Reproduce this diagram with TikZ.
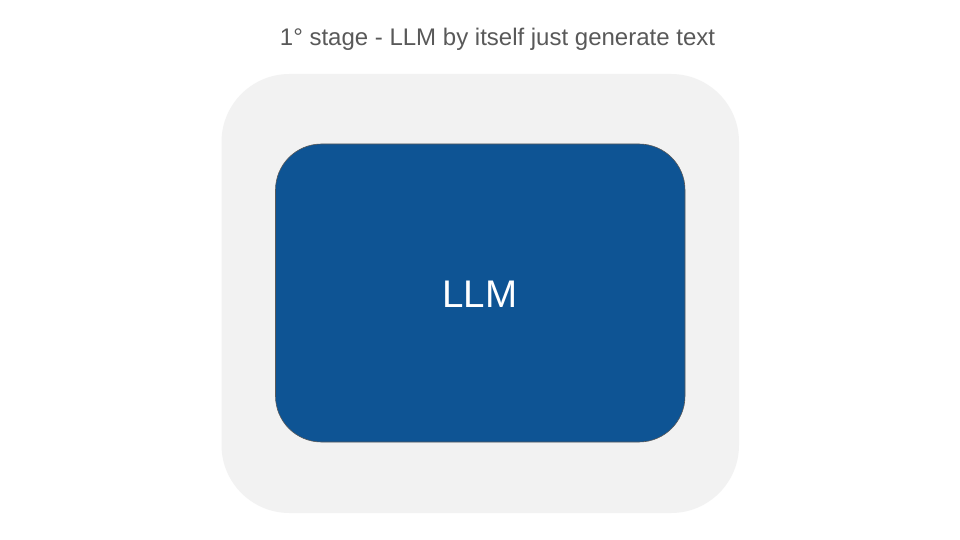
\documentclass[tikz,border=0pt]{standalone}
\usepackage{fontspec}
\setmainfont{Liberation Sans}
\definecolor{llmblue}{HTML}{0E5494}
\definecolor{outergray}{HTML}{F2F2F2}
\definecolor{titlegray}{HTML}{595959}
\begin{document}
\begin{tikzpicture}[x=1pt,y=-1pt,
  outerbox/.style={fill=outergray, draw=none, rounded corners=68pt},
  llmbox/.style={fill=llmblue, draw=black!65, line width=0.6pt, rounded corners=46pt},
  titletext/.style={text=titlegray, font=\fontsize{24}{28}\selectfont, anchor=base, inner sep=0pt},
  llmtext/.style={text=white, font=\fontsize{38.5}{44}\selectfont, anchor=base, inner sep=0pt}]
\useasboundingbox (0,0) rectangle (960,540);
\fill[white] (0,0) rectangle (960,540);
\path[outerbox] (221.5,74) rectangle (739,513);
\path[llmbox] (275.5,144) rectangle (685,442);
\node[titletext] (title) at (497.5,46) {1° stage - LLM by itself just generate text};
\node[llmtext] (llm) at (480,307) {LLM};
\end{tikzpicture}
\end{document}
